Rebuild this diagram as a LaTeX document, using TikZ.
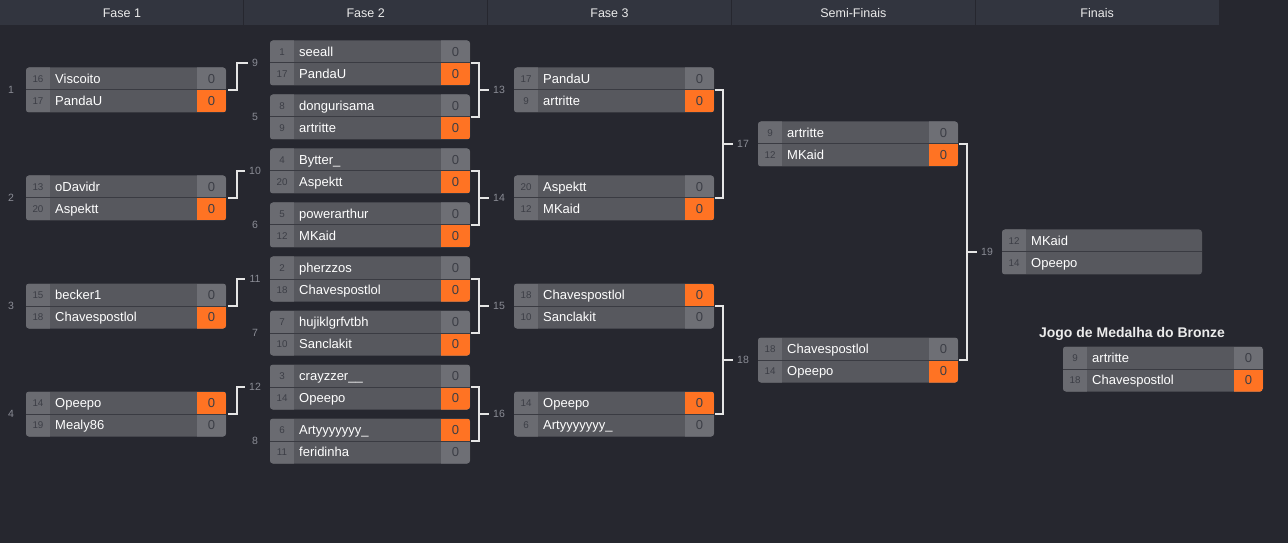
\documentclass[tikz,border=0pt]{standalone}
\usepackage{fontspec}
\setmainfont{Liberation Sans}

\definecolor{fundo}{HTML}{26272F}
\definecolor{cabecalho}{HTML}{32353F}
\definecolor{nomecell}{HTML}{57585E}
\definecolor{seedcell}{HTML}{6A6B71}
\definecolor{placar}{HTML}{6E6F75}
\definecolor{laranja}{HTML}{FF7323}
\definecolor{divisor}{HTML}{3A3B42}
\definecolor{txtcinza}{HTML}{8A8C95}
\definecolor{txtescuro}{HTML}{3C3E46}

\tikzset{
  caixa/.style={rectangle, rounded corners=3pt, fill=nomecell, minimum width=200pt,
    minimum height=45pt, inner sep=0pt, outer sep=0pt},
  nome/.style={anchor=base west, inner sep=0pt, text=white, font=\fontsize{13}{14}\selectfont},
  semente/.style={anchor=base, inner sep=0pt, text=txtescuro, font=\fontsize{9.8}{11}\selectfont},
  ponto/.style={anchor=base, inner sep=0pt, text=txtescuro, font=\fontsize{13}{15}\selectfont},
  numlbl/.style={inner sep=0pt, text=txtcinza, font=\fontsize{10.5}{12}\selectfont},
  bracket/.style={draw=white!90!black, line width=2pt},
  fasetxt/.style={text=white!92!black, font=\fontsize{12.5}{14}\selectfont}
}

% one match: id, x, y (top), seed 1, name 1, seed 2, name 2, winner row
\newcommand{\partida}[8]{%
  \node[caixa, anchor=north west] (m#1) at (#2,#3) {};
  \begin{scope}
    \clip[rounded corners=3pt] (m#1.north west) rectangle (m#1.south east);
    \fill[seedcell] (m#1.north west) rectangle ([xshift=24pt]m#1.south west);
    \fill[placar] ([xshift=-29pt]m#1.north east) rectangle (m#1.south east);
    \ifnum#8=1 \fill[laranja] ([xshift=-29pt]m#1.north east) rectangle (m#1.east);\fi
    \ifnum#8=2 \fill[laranja] ([xshift=-29pt]m#1.east) rectangle (m#1.south east);\fi
  \end{scope}
  \draw[divisor, line width=1pt] (m#1.west) -- (m#1.east);
  \node[semente] at ([xshift=12pt,yshift=7.75pt]m#1.west) {#4};
  \node[semente] at ([xshift=12pt,yshift=-14.75pt]m#1.west) {#6};
  \node[nome] at ([xshift=29pt,yshift=6.6pt]m#1.west) {#5};
  \node[nome] at ([xshift=29pt,yshift=-15.9pt]m#1.west) {#7};
  \node[ponto] at ([xshift=-14.5pt,yshift=6.6pt]m#1.east) {0};
  \node[ponto] at ([xshift=-14.5pt,yshift=-15.9pt]m#1.east) {0};
}

% final match, no score cells
\newcommand{\partidafinal}[7]{%
  \node[caixa, anchor=north west] (m#1) at (#2,#3) {};
  \begin{scope}
    \clip[rounded corners=3pt] (m#1.north west) rectangle (m#1.south east);
    \fill[seedcell] (m#1.north west) rectangle ([xshift=24pt]m#1.south west);
  \end{scope}
  \draw[divisor, line width=1pt] (m#1.west) -- (m#1.east);
  \node[semente] at ([xshift=12pt,yshift=7.75pt]m#1.west) {#4};
  \node[semente] at ([xshift=12pt,yshift=-14.75pt]m#1.west) {#6};
  \node[nome] at ([xshift=29pt,yshift=6.6pt]m#1.west) {#5};
  \node[nome] at ([xshift=29pt,yshift=-15.9pt]m#1.west) {#7};
}

\begin{document}
\begin{tikzpicture}[x=1pt, y=-1pt]
% Background and header bar
\fill[fundo] (0,0) rectangle (1288,542);
\fill[cabecalho] (0,0) rectangle (1219,25);
\foreach \i in {1,...,4} {
    \draw[fundo, line width=1pt] ({243.8*\i},0) -- ({243.8*\i},25);
}
\foreach \t [count=\i] in {Fase 1, Fase 2, Fase 3, Semi-Finais, Finais} {
    \node[fasetxt] (h\i) at ({243.8*(\i-0.5)},12.5) {\t};
}

% Fase 1
\partida{1}{26}{67}{16}{Viscoito}{17}{PandaU}{2}
\partida{2}{26}{175}{13}{oDavidr}{20}{Aspektt}{2}
\partida{3}{26}{283}{15}{becker1}{18}{Chavespostlol}{2}
\partida{4}{26}{391}{14}{Opeepo}{19}{Mealy86}{1}

% Fase 2
\partida{9}{270}{40}{1}{seeall}{17}{PandaU}{2}
\partida{5}{270}{94}{8}{dongurisama}{9}{artritte}{2}
\partida{10}{270}{148}{4}{Bytter\_}{20}{Aspektt}{2}
\partida{6}{270}{202}{5}{powerarthur}{12}{MKaid}{2}
\partida{11}{270}{256}{2}{pherzzos}{18}{Chavespostlol}{2}
\partida{7}{270}{310}{7}{hujiklgrfvtbh}{10}{Sanclakit}{2}
\partida{12}{270}{364}{3}{crayzzer\_\_}{14}{Opeepo}{2}
\partida{8}{270}{418}{6}{Artyyyyyyy\_}{11}{feridinha}{1}

% Fase 3
\partida{13}{514}{67}{17}{PandaU}{9}{artritte}{2}
\partida{14}{514}{175}{20}{Aspektt}{12}{MKaid}{2}
\partida{15}{514}{283}{18}{Chavespostlol}{10}{Sanclakit}{1}
\partida{16}{514}{391}{14}{Opeepo}{6}{Artyyyyyyy\_}{1}

% Semi-Finais
\partida{17}{758}{121}{9}{artritte}{12}{MKaid}{2}
\partida{18}{758}{337}{18}{Chavespostlol}{14}{Opeepo}{2}

% Finais
\partidafinal{19}{1002}{229}{12}{MKaid}{14}{Opeepo}

% Bronze match
\node[text=white!92!black, font=\bfseries\fontsize{14}{16}\selectfont] (bronze) at (1132,333) {Jogo de Medalha do Bronze};
\partida{bz}{1063}{346}{9}{artritte}{18}{Chavespostlol}{2}

% Match numbers
\foreach \k in {1,...,19} {
    \node[numlbl] (l\k) at ([xshift=-15pt]m\k.west) {\k};
}

% Brackets from Fase 1 into Fase 2
\foreach \a/\b in {1/9, 2/10, 3/11, 4/12} {
    \draw[bracket] ([xshift=2pt]m\a.east) -- ++(9,0) |- ([xshift=-4pt]l\b.west);
}

% Brackets joining two matches
\foreach \a/\b/\c in {9/5/13, 10/6/14, 11/7/15, 12/8/16, 13/14/17, 15/16/18, 17/18/19} {
    \draw[bracket] ([xshift=1pt]m\a.east) -- ++(8,0) coordinate (v\c) |- ([xshift=1pt]m\b.east);
    \draw[bracket] (v\c |- l\c.west) -- ([xshift=-4pt]l\c.west);
}

\end{tikzpicture}
\end{document}
